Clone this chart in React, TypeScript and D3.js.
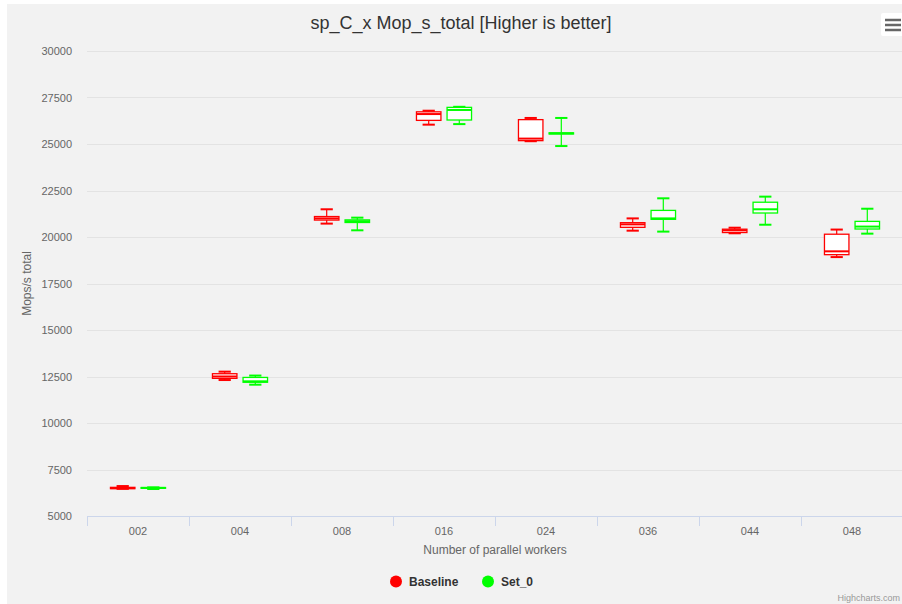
import React from "react";
import * as d3 from "d3";

const categories = ["002", "004", "008", "016", "024", "036", "044", "048"];
const seriesNames = ["Baseline", "Set_0"];
const seriesColors = ["#ff0000", "#00ff00"];

// [low, q1, median, q3, high]
const baseline: number[][] = [
  [6460, 6470, 6500, 6540, 6610],
  [12310, 12400, 12500, 12650, 12760],
  [20720, 20910, 21000, 21100, 21490],
  [26040, 26270, 26610, 26730, 26790],
  [25150, 25180, 25290, 26310, 26400],
  [20340, 20520, 20680, 20770, 21000],
  [20200, 20240, 20360, 20420, 20500],
  [18920, 19050, 19230, 20150, 20400],
];
const set0: number[][] = [
  [6450, 6490, 6510, 6530, 6540],
  [12060, 12190, 12240, 12450, 12550],
  [20360, 20780, 20850, 20920, 21040],
  [26070, 26290, 26830, 26970, 27000],
  [24890, 25540, 25570, 25600, 26400],
  [20290, 20950, 21000, 21430, 22080],
  [20660, 21290, 21490, 21870, 22170],
  [20180, 20430, 20560, 20840, 21520],
];
const yTicks = [5000, 7500, 10000, 12500, 15000, 17500, 20000, 22500, 25000, 27500, 30000];

const FONT = '"Liberation Sans", Arial, Helvetica, sans-serif';

export default function App() {
  const W = 902;
  const H = 604;
  const left = 87;
  const right = 903;
  const top = 51;
  const bottom = 516;

  const x0 = d3.scaleBand<string>().domain(categories).range([left, right]).padding(0);
  const bw = x0.bandwidth();
  const x1 = d3
    .scaleBand<string>()
    .domain(seriesNames)
    .range([0.2 * bw, 0.8 * bw])
    .paddingInner(0.2)
    .paddingOuter(0.1);
  const y = d3.scaleLinear().domain([5000, 30000]).range([bottom, top]);

  const allSeries = [baseline, set0];

  return (
    <svg
      width={W}
      height={H}
      style={{ position: "absolute", left: 0, top: 0, fontFamily: FONT }}
    >
      <rect x={0} y={0} width={W} height={H} fill="#ffffff" />
      <rect x={7} y={4} width={W - 7} height={H - 4} fill="#f2f2f2" />

      {/* grid */}
      {yTicks.map((t) => (
        <line
          key={"g" + t}
          x1={left}
          x2={right}
          y1={Math.round(y(t)) + 0.5}
          y2={Math.round(y(t)) + 0.5}
          stroke="#e3e3e3"
          strokeWidth={1}
        />
      ))}
      {yTicks.map((t) => (
        <text
          key={"yl" + t}
          x={72}
          y={y(t) + 4}
          textAnchor="end"
          fontSize={11}
          fill="#666666"
        >
          {t}
        </text>
      ))}
      <text
        transform={`translate(31,${(top + bottom) / 2}) rotate(-90)`}
        textAnchor="middle"
        fontSize={12}
        fill="#666666"
      >
        Mops/s total
      </text>

      {/* x axis */}
      <line x1={left} x2={right} y1={bottom + 0.5} y2={bottom + 0.5} stroke="#ccd6eb" strokeWidth={1} />
      {categories.map((c) => (
        <line
          key={"t" + c}
          x1={Math.round(x0(c)!) + 0.5}
          x2={Math.round(x0(c)!) + 0.5}
          y1={bottom}
          y2={bottom + 10}
          stroke="#ccd6eb"
          strokeWidth={1}
        />
      ))}
      {categories.map((c) => (
        <text
          key={"xl" + c}
          x={x0(c)! + bw / 2}
          y={bottom + 19}
          textAnchor="middle"
          fontSize={11}
          fill="#666666"
        >
          {c}
        </text>
      ))}
      <text x={(left + right) / 2} y={554} textAnchor="middle" fontSize={12} fill="#666666">
        Number of parallel workers
      </text>

      {/* boxes */}
      {allSeries.map((data, si) =>
        data.map((d, ci) => {
          const [lo, q1, med, q3, hi] = d;
          const bx = x0(categories[ci])! + x1(seriesNames[si])!;
          const w = x1.bandwidth();
          const cx = bx + w / 2;
          const col = seriesColors[si];
          return (
            <g key={`b${si}-${ci}`}>
              <line x1={cx} x2={cx} y1={y(hi)} y2={y(q3)} stroke={col} strokeWidth={1.2} />
              <line x1={cx} x2={cx} y1={y(q1)} y2={y(lo)} stroke={col} strokeWidth={1.2} />
              <rect
                x={bx}
                y={y(q3)}
                width={w}
                height={Math.max(0.5, y(q1) - y(q3))}
                fill="#ffffff"
                stroke={col}
                strokeWidth={1.3}
              />
              <line x1={cx - w / 4} x2={cx + w / 4} y1={y(hi)} y2={y(hi)} stroke={col} strokeWidth={2} />
              <line x1={cx - w / 4} x2={cx + w / 4} y1={y(lo)} y2={y(lo)} stroke={col} strokeWidth={2} />
              <line x1={bx} x2={bx + w} y1={y(med)} y2={y(med)} stroke={col} strokeWidth={2} />
            </g>
          );
        })
      )}

      {/* title */}
      <text x={461} y={29} textAnchor="middle" fontSize={18} fill="#333333">
        sp_C_x Mop_s_total [Higher is better]
      </text>

      {/* menu icon */}
      <rect x={881} y={13} width={24} height={23} rx={2} fill="#ffffff" />
      {[20, 25, 30].map((yy) => (
        <line key={"m" + yy} x1={885} x2={901} y1={yy} y2={yy} stroke="#666666" strokeWidth={2.5} />
      ))}

      {/* legend */}
      {seriesNames.map((s, i) => {
        const lx = [396, 488][i];
        return (
          <g key={"lg" + s}>
            <circle cx={lx} cy={581.5} r={6} fill={seriesColors[i]} />
            <text x={lx + 13} y={586} fontSize={12} fontWeight="bold" fill="#333333">
              {s}
            </text>
          </g>
        );
      })}

      <text x={900} y={601} textAnchor="end" fontSize={9} fill="#999999">
        Highcharts.com
      </text>
    </svg>
  );
}
